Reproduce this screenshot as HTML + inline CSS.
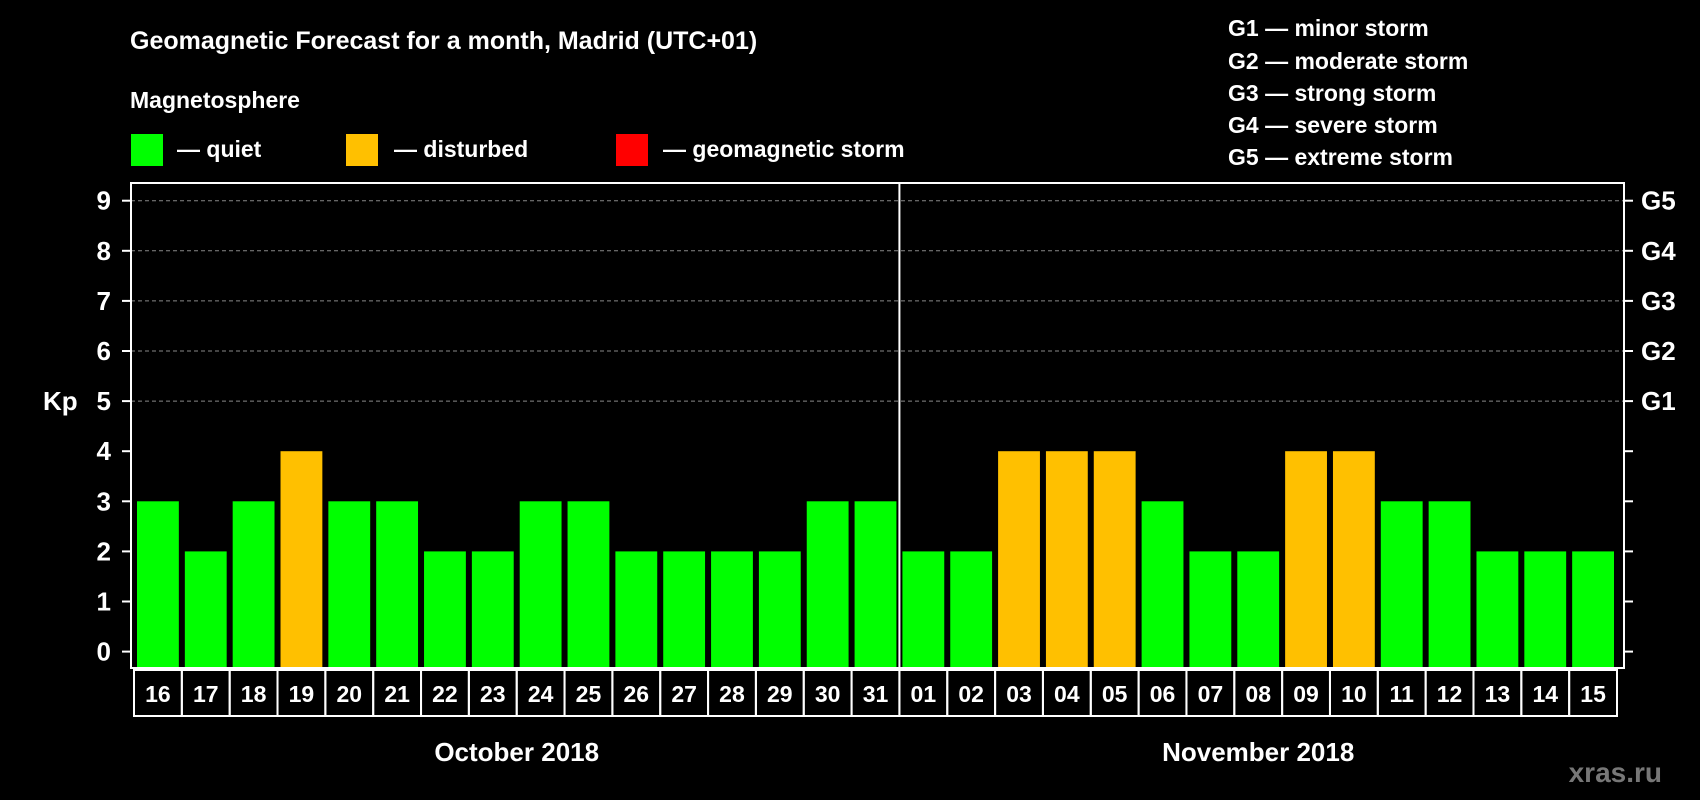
<!DOCTYPE html>
<html><head><meta charset="utf-8"><style>
body{margin:0;background:#000;width:1700px;height:800px;overflow:hidden}
svg{display:block;font-family:"Liberation Sans",Arial,sans-serif;font-weight:bold}
</style></head><body>
<svg id="c" width="1700" height="800" viewBox="0 0 1700 800">
<rect width="1700" height="800" fill="#000"/>
<text x="130" y="49" fill="#fff" font-size="25">Geomagnetic Forecast for a month, Madrid (UTC+01)</text>
<text x="130" y="108" fill="#fff" font-size="23">Magnetosphere</text>
<g><rect x="131" y="134" width="32" height="32" fill="#00ff00"/><text x="177" y="157" fill="#fff" font-size="23">— quiet</text></g>
<g><rect x="346" y="134" width="32" height="32" fill="#ffc000"/><text x="394" y="157" fill="#fff" font-size="23">— disturbed</text></g>
<g><rect x="616" y="134" width="32" height="32" fill="#ff0000"/><text x="663" y="157" fill="#fff" font-size="23">— geomagnetic storm</text></g>
<g fill="#fff" font-size="23">
<text x="1228" y="36">G1 — minor storm</text>
<text x="1228" y="69">G2 — moderate storm</text>
<text x="1228" y="101">G3 — strong storm</text>
<text x="1228" y="133">G4 — severe storm</text>
<text x="1228" y="165">G5 — extreme storm</text>
</g>
<text x="43" y="410" fill="#fff" font-size="26">Kp</text>
<text x="1662" y="782" fill="#777" font-size="28" text-anchor="end">xras.ru</text>
<g id="plot"></g>
</svg>
<script>
const octDays=["16","17","18","19","20","21","22","23","24","25","26","27","28","29","30","31"];
const novDays=["01","02","03","04","05","06","07","08","09","10","11","12","13","14","15"];
const octValues=[3,2,3,4,3,3,2,2,3,3,2,2,2,2,3,3];
const novValues=[2,2,4,4,4,3,2,2,4,4,3,3,2,2,2];
const yTicks=[0,1,2,3,4,5,6,7,8,9];
const gLabels=["G1","G2","G3","G4","G5"];
const monthLabels=["October 2018","November 2018"];

const NS="http://www.w3.org/2000/svg";
const g=document.getElementById('plot');
const L=131,R=1624,T=183,B=668;
const y=v=>651.6-v*50.1;
const n=octDays.length+novDays.length;
const pitch=(1620-137)/n;
const x=i=>137+i*pitch;
function mk(t,a,p){const e=document.createElementNS(NS,t);for(const k in a)e.setAttribute(k,a[k]);(p||g).appendChild(e);return e;}
const days=octDays.concat(novDays), vals=octValues.concat(novValues);
// gridlines
yTicks.forEach(v=>{
  if(v>=5){const l=mk('line',{x1:L,x2:R,y1:y(v),y2:y(v),stroke:'#888','stroke-dasharray':'4,3','stroke-width':1});
  
  }
  const t=mk('line',{x1:L-9,x2:L,y1:y(v),y2:y(v),stroke:'#fff','stroke-width':2});
  
  
  const t2=mk('line',{x1:R,x2:R+9,y1:y(v),y2:y(v),stroke:'#fff','stroke-width':2});
  
  
  const tx=mk('text',{x:L-20,y:y(v)+9,fill:'#fff','font-size':26,'text-anchor':'end'});
  tx.textContent=v;
  
  
});
gLabels.forEach((s,i)=>{
  const tx=mk('text',{x:R+17,y:y(5+i)+9,fill:'#fff','font-size':26});
  tx.textContent=s;
  
  
});
// bars
vals.forEach((v,i)=>{
  const c=v>=5?'#ff0000':(v>=4?'#ffc000':'#00ff00');
  const r=mk('rect',{x:x(i),y:y(v),width:pitch-6,height:B-y(v),fill:c});
  
  
  const b=mk('rect',{x:x(i)-3,y:670,width:pitch,height:46,fill:'none',stroke:'#fff','stroke-width':2});
  
  
  const tx=mk('text',{x:x(i)-3+pitch/2,y:702,fill:'#fff','font-size':23,'text-anchor':'middle'});
  tx.textContent=days[i];
  
  
});
const fr=mk('rect',{x:L,y:T,width:R-L,height:B-T,fill:'none',stroke:'#fff','stroke-width':2});


const dx=x(octDays.length)-3;
const dv=mk('line',{x1:dx,x2:dx,y1:T,y2:B,stroke:'#fff','stroke-width':2});


[[x(0)-3,dx],[dx,x(n)-3]].forEach((s,i)=>{
  const tx=mk('text',{x:(s[0]+s[1])/2,y:761,fill:'#fff','font-size':26,'text-anchor':'middle'});
  tx.textContent=monthLabels[i];
  
  
});
</script>
</body></html>
